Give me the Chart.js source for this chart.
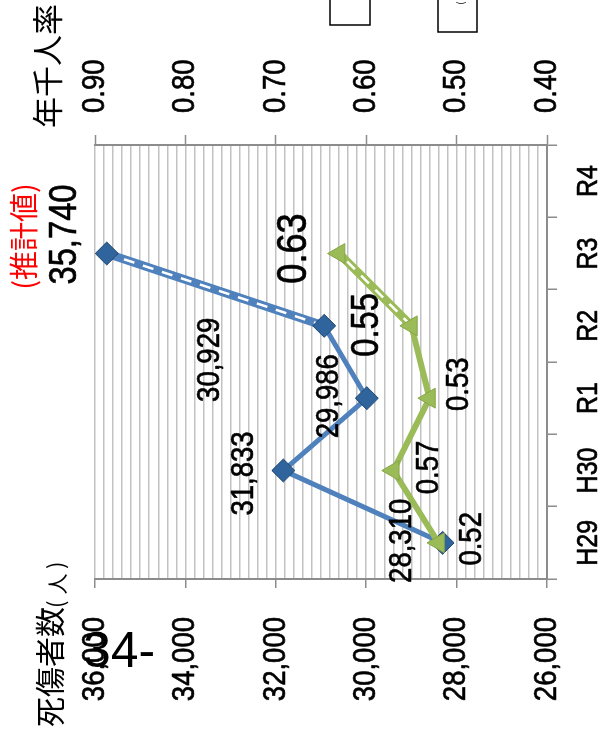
<!DOCTYPE html>
<html>
<head>
<meta charset="utf-8">
<script src="https://cdn.jsdelivr.net/npm/chart.js@4.4.1/dist/chart.umd.min.js"></script>
<style>
  html, body { margin: 0; padding: 0; background: #fff; overflow: hidden; width: 601px; height: 735px; }
  /* the chart is laid out landscape and turned a quarter turn to stand on its side */
  #turn { position: absolute; left: 0; top: 0; width: 735px; height: 601px;
          transform-origin: 0 0; transform: translateY(735px) rotate(-90deg); }
  canvas { display: block; }
</style>
</head>
<body>
<div id="turn"><canvas id="c" width="735" height="601"></canvas></div>
<script>
// ---- data ----
const categories = ['H29', 'H30', 'R1', 'R2', 'R3', 'R4'];
const casualties = [28310, 31833, 29986, 30929];      // 死傷者数 H29–R2
const casualtiesEstimate = [35740];                   // R3 推計値
const rates = [0.52, 0.57, 0.53, 0.55];               // 年千人率 H29–R2
const ratesEstimate = [0.63];                         // R3 推計値
const casualtyTicks = [36000, 34000, 32000, 30000, 28000, 26000];
const rateTicks = [0.90, 0.80, 0.70, 0.60, 0.50, 0.40];

// ---- label placement (du, dv from the point, in the chart's own frame) ----
const casualtyLabelShift = [[2, -40], [-3, -39], [2, -38], [-34, -114]];
const casualtyEstimateShift = [[19, -41]];
const rateLabelShift = [[4, 34], [3, 36], [14, 30], [1, -44]];
const rateEstimateShift = [[5, -45]];
const rateLabelSize = [32, 32, 32, 38];

const SANS = "'Liberation Sans', Arial, sans-serif";
const CJK = "'Noto Sans CJK JP', 'Noto Sans CJK SC', sans-serif";
const NARROW_K = 0.86;          // horizontal squeeze for the numeric text
const BLUE = '#4f81bd';
const GREEN = '#9bbb59';
const AXIS = '#8c8c8c';

const n = categories.length;
function place(values, start) {
  const out = new Array(n).fill(null);
  values.forEach((v, i) => { out[start + i] = v; });
  return out;
}
const lastActual = casualties.length - 1;
const casActual = place(casualties, 0);
const casEstimateLine = place([casualties[lastActual], ...casualtiesEstimate], lastActual);
const casEstimatePoint = place(casualtiesEstimate, casualties.length);
const rateActual = place(rates, 0);
const rateEstimateLine = place([rates[lastActual], ...ratesEstimate], lastActual);
const rateEstimatePoint = place(ratesEstimate, rates.length);

const diamond = { pointStyle: 'rectRot', pointRadius: 11.5, pointHoverRadius: 11.5,
  pointBackgroundColor: '#30649c', pointBorderColor: '#1d456f', pointBorderWidth: 1 };
const triangle = { pointStyle: 'triangle', pointRadius: 11.5, pointHoverRadius: 11.5,
  pointBackgroundColor: GREEN, pointBorderColor: '#86a646', pointBorderWidth: 1 };
const lineBase = { tension: 0, spanGaps: false, borderJoinStyle: 'round', borderCapStyle: 'round' };

function isMajorCas(v) { return casualtyTicks.includes(Math.round(v)); }
function isMajorRate(v) { const r = Math.round(v * 100) / 100; return rateTicks.some(t => Math.abs(t - r) < 1e-9); }

const fmtCas = v => Math.round(v).toLocaleString('en-US');
const fmtRate = v => (Math.round(v * 100) / 100).toFixed(2);

// tick labels, value labels, axis titles and page furniture
const notes = {
  id: 'notes',
  afterDatasetsDraw(chart) {
    const ctx = chart.ctx;
    const meta = label => chart.getDatasetMeta(chart.data.datasets.findIndex(d => d.label === label));
    const text = (s, u, v, size, color, family, align, k, weight) => {
      ctx.save();
      ctx.translate(u, v);
      ctx.scale(k || 1, 1);
      ctx.font = size + 'px ' + family;
      ctx.fillStyle = color;
      ctx.textAlign = align || 'center';
      ctx.textBaseline = 'middle';
      ctx.fillText(s, 0, 0);
      if (weight) {
        ctx.strokeStyle = color;
        ctx.lineWidth = weight;
        ctx.lineJoin = 'round';
        ctx.strokeText(s, 0, 0);
      }
      ctx.restore();
    };
    const num = (s, u, v, size, align) => text(s, u, v, size, '#000', SANS, align, NARROW_K, 0.7);

    // axis tick labels
    const { x, y, y1 } = chart.scales;
    casualtyTicks.forEach(t => num(fmtCas(t), 118, y.getPixelForValue(t), 32, 'right'));
    rateTicks.forEach(t => num(fmtRate(t), 622, y1.getPixelForValue(t), 32, 'left'));
    categories.forEach((c, i) => num(c, x.getPixelForValue(i), 589, 29, 'center'));

    // value labels
    const mCas = meta('死傷者数');
    casualties.forEach((val, i) => {
      const p = mCas.data[i];
      num(fmtCas(val), p.x + casualtyLabelShift[i][0], p.y + casualtyLabelShift[i][1], 32);
    });
    const mCasE = meta('死傷者数 推計値 点');
    casualtiesEstimate.forEach((val, i) => {
      const p = mCasE.data[casualties.length + i];
      num(fmtCas(val), p.x + casualtyEstimateShift[i][0], p.y + casualtyEstimateShift[i][1], 38);
      text('(推計値)', p.x + 17, p.y - 83, 29, '#ff0000', CJK);
    });

    const mRate = meta('年千人率');
    rates.forEach((val, i) => {
      const p = mRate.data[i];
      num(fmtRate(val), p.x + rateLabelShift[i][0], p.y + rateLabelShift[i][1], rateLabelSize[i]);
    });
    const mRateE = meta('年千人率 推計値 点');
    ratesEstimate.forEach((val, i) => {
      const p = mRateE.data[rates.length + i];
      num(fmtRate(val), p.x + rateEstimateShift[i][0], p.y + rateEstimateShift[i][1], 42);
    });

    // axis titles
    text('年千人率', 669, 47, 31, '#000', CJK);
    text('死傷者数', 8, 50, 30, '#000', CJK, 'left');
    text('(', 127, 56, 22, '#000', CJK, 'left');
    text('人', 151, 57, 21, '#000', CJK, 'center');
    text(')', 166, 56, 22, '#000', CJK, 'left');

    // legend frames running off the edge
    ctx.save();
    ctx.strokeStyle = '#000';
    ctx.lineWidth = 1.5;
    ctx.strokeRect(710, 330, 40, 40);
    ctx.strokeRect(703, 438, 50, 39);
    ctx.restore();
    text('(', 732, 460, 10, '#000', CJK);

    // page number, set upright on the turned page
    ctx.save();
    ctx.translate(735 - 667, 83);
    ctx.rotate(Math.PI / 2);
    ctx.font = '50px ' + SANS;
    ctx.fillStyle = '#000';
    ctx.textAlign = 'left';
    ctx.textBaseline = 'alphabetic';
    ctx.fillText('34-', 0, 0);
    ctx.restore();
  }
};

new Chart(document.getElementById('c'), {
  type: 'line',
  data: {
    labels: categories,
    datasets: [
      // estimate segments: wide band with a white dashed stripe
      { label: '死傷者数 推計値', data: casEstimateLine, yAxisID: 'y', ...lineBase,
        borderColor: BLUE, borderWidth: 8.5, pointRadius: 0, order: 6 },
      { label: '死傷者数 推計値 破線', data: casEstimateLine, yAxisID: 'y', ...lineBase,
        borderColor: '#ffffff', borderWidth: 2.5, borderDash: [11, 9], borderCapStyle: 'butt', pointRadius: 0, order: 5 },
      { label: '年千人率 推計値', data: rateEstimateLine, yAxisID: 'y1', ...lineBase,
        borderColor: GREEN, borderWidth: 8.5, pointRadius: 0, order: 6 },
      { label: '年千人率 推計値 破線', data: rateEstimateLine, yAxisID: 'y1', ...lineBase,
        borderColor: '#ffffff', borderWidth: 2.5, borderDash: [11, 9], borderCapStyle: 'butt', pointRadius: 0, order: 5 },
      // actual values
      { label: '死傷者数', data: casActual, yAxisID: 'y', ...lineBase,
        borderColor: BLUE, borderWidth: 5, ...diamond, order: 3 },
      { label: '年千人率', data: rateActual, yAxisID: 'y1', ...lineBase,
        borderColor: GREEN, borderWidth: 6, ...triangle, order: 2 },
      // estimate markers
      { label: '死傷者数 推計値 点', data: casEstimatePoint, yAxisID: 'y', showLine: false, ...diamond, order: 1 },
      { label: '年千人率 推計値 点', data: rateEstimatePoint, yAxisID: 'y1', showLine: false, ...triangle, order: 1 }
    ]
  },
  options: {
    responsive: false,
    animation: false,
    devicePixelRatio: 1,
    layout: { padding: { top: 95, left: 0, right: 0, bottom: 0 } },
    plugins: { legend: { display: false }, tooltip: { enabled: false } },
    events: [],
    scales: {
      x: {
        type: 'category', offset: true,
        grid: { offset: true, drawOnChartArea: false, tickLength: 10, color: AXIS, lineWidth: 1.5 },
        border: { display: true, color: AXIS, width: 2 },
        ticks: { display: false },
        afterFit(s) { s.height = 54; }
      },
      y: {
        position: 'left', min: 26000, max: 36000,
        ticks: { count: 51, display: false },
        grid: { color: '#c2c2c2', lineWidth: 1.5, tickLength: 9, tickWidth: 1.5,
                tickColor: c => (c.tick && isMajorCas(c.tick.value)) ? AXIS : 'rgba(0,0,0,0)' },
        border: { display: true, color: AXIS, width: 2 },
        afterFit(s) { s.width = 156; }
      },
      y1: {
        position: 'right', min: 0.40, max: 0.90,
        ticks: { count: 51, display: false },
        grid: { drawOnChartArea: false, tickLength: 10, tickWidth: 1.5,
                tickColor: c => (c.tick && isMajorRate(c.tick.value)) ? AXIS : 'rgba(0,0,0,0)' },
        border: { display: true, color: AXIS, width: 2 },
        afterFit(s) { s.width = 145; }
      }
    }
  },
  plugins: [notes]
});
</script>
</body>
</html>
